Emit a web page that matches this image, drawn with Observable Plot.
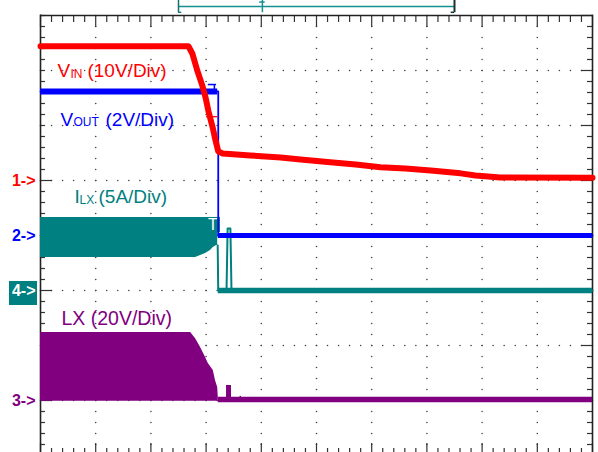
<!DOCTYPE html>
<html><head><meta charset="utf-8">
<script src="https://cdn.jsdelivr.net/npm/d3@7"></script>
<script src="https://cdn.jsdelivr.net/npm/@observablehq/plot@0.6"></script>
<style>
html,body{margin:0;padding:0;background:#fff;}
#chart{width:598px;height:452px;overflow:hidden;}
</style></head><body><div id="chart"></div>
<script>
// ---- channel set-up (ground marker position in divisions, units per division) ----
const chNames   = ["vin", "vout", "ilx", "lx"];
const chOffsets = [1, 0, -1, -3];
const chPerDiv  = [10, 2, 5, 20];
const chColors  = ["#ff0000", "#0000ff", "#008080", "#800080"];
const chMarkers = ["1->", "2->", "4->", "3->"];

// ---- time axis in divisions (10 div across) ----
// VIN trace (V)
const vinT = [0, 2.68, 2.75, 2.84, 2.93, 2.99, 3.04, 3.12, 3.17, 3.22, 3.30, 3.80, 4.35, 4.71, 5.25, 5.71, 6.16, 6.61, 7.07, 7.61, 7.88, 8.33, 10];
const vinV = [24.4, 24.4, 23.1, 20.0, 17.3, 15.1, 12.7, 9.6, 7.3, 5.3, 4.9, 4.55, 4.2, 3.8, 3.3, 2.9, 2.4, 2.2, 1.8, 1.3, 0.9, 0.55, 0.5];
const vinGlitch = {t1: 3.01, t2: 3.21, v: 11.6};

// VOUT trace (V)
const voutT = [0, 3.21, 3.22, 3.22, 10];
const voutV = [5.24, 5.24, 5.24, 0, 0];
const voutFlats = [{t1: 0, t2: 3.21, v: 5.24, w: 6}, {t1: 3.22, t2: 10, v: 0, w: 5}];
const voutGlitch = {t1: 3.04, t2: 3.19, v: 5.49, stemT: 3.15};

// ILX switching band (A) and trace after shutdown
const ilxBandT   = [0, 2.81, 2.90, 2.99, 3.08, 3.13, 3.19, 3.21];
const ilxBandTop = [6.64, 6.64, 6.64, 6.64, 6.64, 6.64, 6.64, 6.64];
const ilxBandBot = [3.0, 3.0, 3.18, 3.36, 3.64, 3.91, 4.09, 4.09];
const ilxT = [3.21, 3.22, 3.37, 3.39, 3.44, 3.46, 10];
const ilxA = [4.09, 0, 0, 5.64, 5.64, 0, 0];
const trigBox = {t1: 2.99, t2: 3.26, a1: 5.27, a2: 6.64, label: "T"};

// LX switching node (V)
const lxT   = [0, 2.72, 2.81, 2.90, 2.99, 3.04, 3.13, 3.17, 3.21, 3.22];
const lxTop = [24.7, 24.7, 22.5, 19.3, 15.6, 13.5, 10.9, 7.3, 4.7, 1.5];
const lxBottom = -0.3;
const lxFlat = {t1: 3.22, t2: 10, v: 0.35};
const lxPulse = {t1: 3.37, t2: 3.46, v: 5.45};
const lxBlip = {t: 3.62, v: 1.5};

// ---- labels: [channel index, text, x (div), y (div), font size] ----
const labelCh   = [0, 0, 0, 1, 1, 1, 2, 2, 2, 3];
const labelText = ["V", "IN", "(10V/Div)", "V", "OUT", "(2V/Div)", "I", "LX", "(5A/Div)", "LX (20V/Div)"];
const labelX    = [0.308, 0.543, 0.851, 0.362, 0.598, 1.178, 0.616, 0.707, 1.051, 0.380];
const labelY    = [2.873, 2.855, 2.873, 2.0, 1.982, 2.0, 0.582, 0.564, 0.582, -1.636];
const labelSize = [19, 12, 19, 19, 12, 19, 19, 12, 19, 19.5];

// record-length bracket at the top (divisions)
const bracket = {t1: 2.5, t2: 7.5, pos: 4.02};

// ---- helpers ----
const ci = n => chNames.indexOf(n);
const Y = (n, v) => chOffsets[ci(n)] + v / chPerDiv[ci(n)];
const col = n => chColors[ci(n)];

const vin = vinT.map((t, i) => ({t, y: Y("vin", vinV[i])}));
const vout = voutT.map((t, i) => ({t, y: Y("vout", voutV[i])}));
const ilxBand = ilxBandT.map((t, i) => ({t, y1: Y("ilx", ilxBandBot[i]), y2: Y("ilx", ilxBandTop[i])}));
const ilx = ilxT.map((t, i) => ({t, y: Y("ilx", ilxA[i])}));
const lx = lxT.map((t, i) => ({t, y1: Y("lx", lxBottom), y2: Y("lx", lxTop[i])}));
const labels = labelText.map((text, i) => ({text, x: labelX[i], y: labelY[i], size: labelSize[i], color: chColors[labelCh[i]]}));
const markers = chMarkers.map((m, i) => ({text: m, y: chOffsets[i], color: chColors[i], boxed: m === "4->"}));

// graticule
const fifths = d3.range(0, 51).map(i => i / 5);      // 0..10 step 0.2
const vfifths = d3.range(-20, 21).map(i => i / 5);   // -4..4 step 0.2
const dots = [];
for (let k = 1; k <= 9; k++) vfifths.forEach(v => dots.push({x: k, y: v}));
for (let j = -3; j <= 3; j++) fifths.forEach(t => dots.push({x: t, y: j}));
const isInt = v => Math.abs(v - Math.round(v)) < 1e-6;
const PX_X = 55.2, PX_Y = 55;
const topTicks = fifths.map(t => ({x: t, y1: 4, y2: 4 - (isInt(t) ? 12 : 7) / PX_Y}));
const botTicks = fifths.map(t => ({x: t, y1: -4.06, y2: -4 + (isInt(t) ? 12 : 7) / PX_Y}));
const leftTicks = vfifths.map(v => ({y: v, x1: 0, x2: (chOffsets.some(o => Math.abs(o - v) < 1e-6) ? 12 : 5) / PX_X}));
const rightTicks = vfifths.map(v => ({y: v, x1: 10 - (isInt(v) ? 11 : 5) / PX_X, x2: 10}));

const FONT = "Liberation Sans, Arial, Helvetica, sans-serif";

const chart = Plot.plot({
  width: 598, height: 452,
  marginLeft: 40, marginRight: 6, marginTop: 15, marginBottom: 0,
  x: {domain: [0, 10], range: [40, 592], axis: null},
  y: {domain: [-4, 4], range: [455, 15], axis: null},
  color: {type: "identity"},
  style: {fontFamily: FONT, background: "white", overflow: "visible"},
  marks: [
    // graticule dots
    Plot.dot(dots, {x: "x", y: "y", r: 0.8, fill: "#444", stroke: null}),
    // ticks on borders
    Plot.ruleX(topTicks, {x: "x", y1: "y1", y2: "y2", stroke: "#333", strokeWidth: 1.2}),
    Plot.ruleX(botTicks, {x: "x", y1: "y1", y2: "y2", stroke: "#333", strokeWidth: 1.2}),
    Plot.ruleY(leftTicks, {y: "y", x1: "x1", x2: "x2", stroke: "#333", strokeWidth: 1.2}),
    Plot.ruleY(rightTicks, {y: "y", x1: "x1", x2: "x2", stroke: "#333", strokeWidth: 1.2}),
    // frame
    Plot.ruleX([0, 10], {y1: -4.1, y2: 4.01, stroke: "#222", strokeWidth: 1.6}),
    Plot.ruleY([4], {x1: 0, x2: 10, stroke: "#222", strokeWidth: 1.6}),

    // LX (purple)
    Plot.areaY(lx, {x: "t", y1: "y1", y2: "y2", fill: col("lx"), curve: "linear"}),
    Plot.ruleY([lxFlat], {y: d => Y("lx", d.v), x1: "t1", x2: "t2", stroke: col("lx"), strokeWidth: 5.5}),
    Plot.rect([lxPulse], {x1: "t1", x2: "t2", y1: Y("lx", 0), y2: d => Y("lx", d.v), fill: col("lx")}),
    Plot.ruleX([lxBlip], {x: "t", y1: Y("lx", 0), y2: d => Y("lx", d.v), stroke: col("lx"), strokeWidth: 1.5}),

    // ILX (teal)
    Plot.areaY(ilxBand, {x: "t", y1: "y1", y2: "y2", fill: col("ilx")}),
    Plot.line(ilx, {x: "t", y: "y", stroke: col("ilx"), strokeWidth: 2}),
    Plot.ruleY([{t1: 3.22, t2: 10}], {y: Y("ilx", 0), x1: "t1", x2: "t2", stroke: col("ilx"), strokeWidth: 5.5}),
    Plot.rect([trigBox], {x1: "t1", x2: "t2", y1: d => Y("ilx", d.a1), y2: d => Y("ilx", d.a2), fill: col("ilx")}),
    Plot.text([trigBox], {x: d => (d.t1 + d.t2) / 2, y: d => Y("ilx", (d.a1 + d.a2) / 2), text: "label", fill: "white", fontSize: 16, lineAnchor: "middle"}),

    // VOUT (blue)
    Plot.line(vout, {x: "t", y: "y", stroke: col("vout"), strokeWidth: 1.8}),
    Plot.ruleY(voutFlats, {y: d => Y("vout", d.v), x1: "t1", x2: "t2", stroke: col("vout"), strokeWidth: "w"}),
    Plot.ruleY([voutGlitch], {y: d => Y("vout", d.v), x1: "t1", x2: "t2", stroke: col("vout"), strokeWidth: 1.5}),
    Plot.ruleX([voutGlitch], {x: "stemT", y1: d => Y("vout", 5.24), y2: d => Y("vout", d.v), stroke: col("vout"), strokeWidth: 1.5}),

    // VIN (red)
    Plot.line(vin, {x: "t", y: "y", stroke: col("vin"), strokeWidth: 6, strokeLinejoin: "round"}),
    Plot.ruleY([vinGlitch], {y: d => Y("vin", d.v), x1: "t1", x2: "t2", stroke: col("vin"), strokeWidth: 1.3}),

    // channel labels
    Plot.text(labels, {x: "x", y: "y", text: "text", fill: "color", fontSize: d => d.size, textAnchor: "start", lineAnchor: "bottom"}),

    // ground markers
    Plot.rect(markers.filter(d => d.boxed), {x1: -0.562, x2: -0.054, y1: d => d.y - 0.273, y2: d => d.y + 0.164, fill: d => d.color}),
    Plot.text(markers, {x: -0.09, y: "y", text: "text", fill: d => d.boxed ? "white" : d.color, fontSize: 16, fontWeight: "bold", textAnchor: "end", lineAnchor: "middle"}),

    // record-length bracket at top
    Plot.ruleY([bracket], {y: 4.164, x1: "t1", x2: "t2", stroke: "#159090", strokeWidth: 1.5}),
    Plot.ruleX([bracket], {x: "t1", y1: 4.05, y2: 4.29, stroke: "#157070", strokeWidth: 1.5}),
    Plot.ruleY([bracket], {y: 4.058, x1: "t1", x2: d => d.t1 + 0.06, stroke: "#157070", strokeWidth: 1.3}),
    Plot.ruleX([bracket], {x: "t2", y1: 4.05, y2: 4.29, stroke: "#1a3030", strokeWidth: 2}),
    Plot.ruleY([bracket], {y: 4.058, x1: d => d.t2 - 0.06, x2: "t2", stroke: "#1a3030", strokeWidth: 1.5}),
    Plot.ruleX([bracket], {x: "pos", y1: 4.05, y2: 4.29, stroke: "#159090", strokeWidth: 1.5}),
    Plot.ruleY([bracket], {y: 4.245, x1: d => d.pos - 0.05, x2: d => d.pos + 0.05, stroke: "#159090", strokeWidth: 1.5})
  ]
});
document.getElementById("chart").appendChild(chart);
</script>
</body></html>
